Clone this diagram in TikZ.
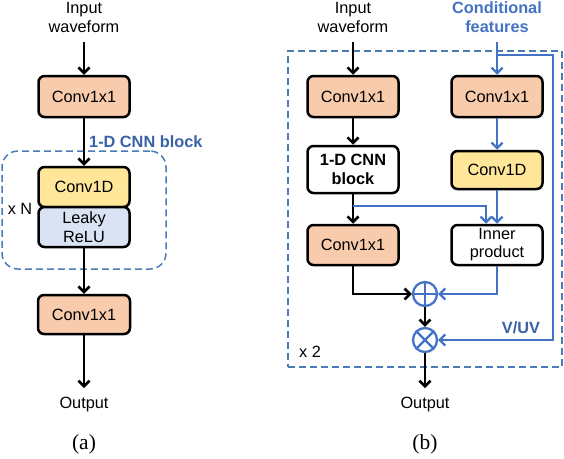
\documentclass[tikz,border=0pt]{standalone}
\usepackage{fontspec}
\setmainfont{Liberation Sans}
\newfontfamily\capfont{Liberation Serif}
\usetikzlibrary{arrows.meta,calc}
\definecolor{peach}{HTML}{F8CBAD}
\definecolor{ylw}{HTML}{FFE699}
\definecolor{lblue}{HTML}{DAE3F3}
\definecolor{cblue}{HTML}{4472C4}
\definecolor{tblue}{HTML}{3A62A8}
\definecolor{dblue}{HTML}{4A7DB5}
\newcommand\fs{\fontsize{16.3}{18.8}\selectfont}
\begin{document}
\begin{tikzpicture}[x=1pt,y=-1pt,
  blk/.style={draw=black, line width=2.5pt, rounded corners=6pt, minimum width=91pt,
    minimum height=40pt, align=center, inner sep=0pt, font=\fs},
  txt/.style={align=center, font=\fs, inner sep=0pt},
  btxt/.style={align=center, font=\fs\bfseries, text=tblue, inner sep=0pt},
  arr/.style={line width=2.6pt, -{Straight Barb[length=5.5pt,width=11pt]}},
  barr/.style={draw=cblue, line width=2.3pt, -{Straight Barb[length=5.5pt,width=11pt]}},
  bln/.style={draw=cblue, line width=2.3pt},
  dbox/.style={draw=dblue, line width=1.5pt, dash pattern=on 7pt off 4pt},
  opc/.style={circle, draw=cblue, line width=2.3pt, minimum size=24pt, inner sep=0pt},
  caplab/.style={font=\capfont\fontsize{21.5}{24}\selectfont, inner sep=0pt}
]
\useasboundingbox (0,0) rectangle (564,458);

% ---------------- panel (a) ----------------
\node[txt, anchor=south, inner ysep=9pt] (ain) at (84,42) {Input\\waveform};
\node[blk, fill=peach, minimum height=41pt] (ac1) at (84,96.5) {Conv1x1};
\node[dbox, rounded corners=16pt, minimum width=164pt, minimum height=118pt] (acnn) at (84,210) {};
\node[btxt, anchor=west] (alab) at (89,142) {1-D CNN block};
\node[blk, fill=ylw] (aconv) at (84,187) {Conv1D};
\node[blk, fill=lblue] (arelu) at (84,227) {Leaky\\ReLU};
\node[txt] (axn) at (20,209) {x N};
\node[blk, fill=peach, minimum width=92pt, minimum height=39pt] (ac2) at (84,314.5) {Conv1x1};
\node[txt, anchor=north, inner ysep=9pt] (aout) at (84,388) {Output};
\node[caplab] (acap) at (84,444) {(a)};

\draw[arr] (ain.south) -- (ac1.north);
\draw[arr] (ac1.south) -- (aconv.north);
\draw[arr] (arelu.south) -- (ac2.north);
\draw[arr] (ac2.south) -- (aout.north);

% ---------------- panel (b) ----------------
\node[dbox, minimum width=274pt, minimum height=316pt] (bbox) at (425,209) {};
\node[txt, anchor=south, inner ysep=9pt] (bin) at (353,42) {Input\\waveform};
\node[btxt, anchor=south, inner ysep=9pt, text=cblue] (bcond) at (497,42) {Conditional\\features};
\node[blk, fill=peach, minimum height=41pt] (bc1) at (353,96.5) {Conv1x1};
\node[blk, fill=white, minimum height=47pt, font=\fs\bfseries] (bcnn) at (353,169.5) {1-D CNN\\block};
\node[blk, fill=peach] (bc2) at (353,245) {Conv1x1};
\node[blk, fill=peach, minimum height=41pt] (rc1) at (497,96.5) {Conv1x1};
\node[blk, fill=ylw, minimum height=38pt] (rconv) at (497,170) {Conv1D};
\node[blk, fill=white, font=\fontsize{16.3}{18}\selectfont] (inner) at (497,245) {Inner\\product};
\node[opc] (plus) at (425,294) {};
\node[opc] (times) at (425,340) {};
\draw[cblue, line width=2.3pt] (plus.north) -- (plus.south) (plus.west) -- (plus.east);
\draw[cblue, line width=2.3pt] (times.north west) -- (times.south east) (times.north east) -- (times.south west);
\node[txt] (bx2) at (310,352) {x 2};
\node[btxt] (vuv) at (521,328) {V/UV};
\node[txt, anchor=north, inner ysep=9pt] (bout) at (425,388) {Output};
\node[caplab] (bcap) at (425,444) {(b)};

\coordinate (br) at ($(bcnn.south)!0.4!(bc2.north)$);
\coordinate (cj) at (497,55);
\coordinate (rt) at (553,55);

\draw[arr] (bin.south) -- (bc1.north);
\draw[arr] (bc1.south) -- (bcnn.north);
\draw[arr] (bcnn.south) -- (bc2.north);
\draw[arr] (bc2.south) |- (plus.west);
\draw[arr] (plus.south) -- (times.north);
\draw[arr] (times.south) -- (bout.north);

\draw[bln] (bcond.south) -- (cj);
\draw[barr] (cj) -- (rc1.north);
\draw[barr] (rc1.south) -- (rconv.north);
\draw[barr] (rconv.south) -- (inner.north);
\draw[barr] (br) -| ([xshift=-11pt]inner.north);
\draw[barr] (inner.south) |- (plus.east);
\draw[barr] (cj) -- (rt) |- (times.east);
\end{tikzpicture}
\end{document}
